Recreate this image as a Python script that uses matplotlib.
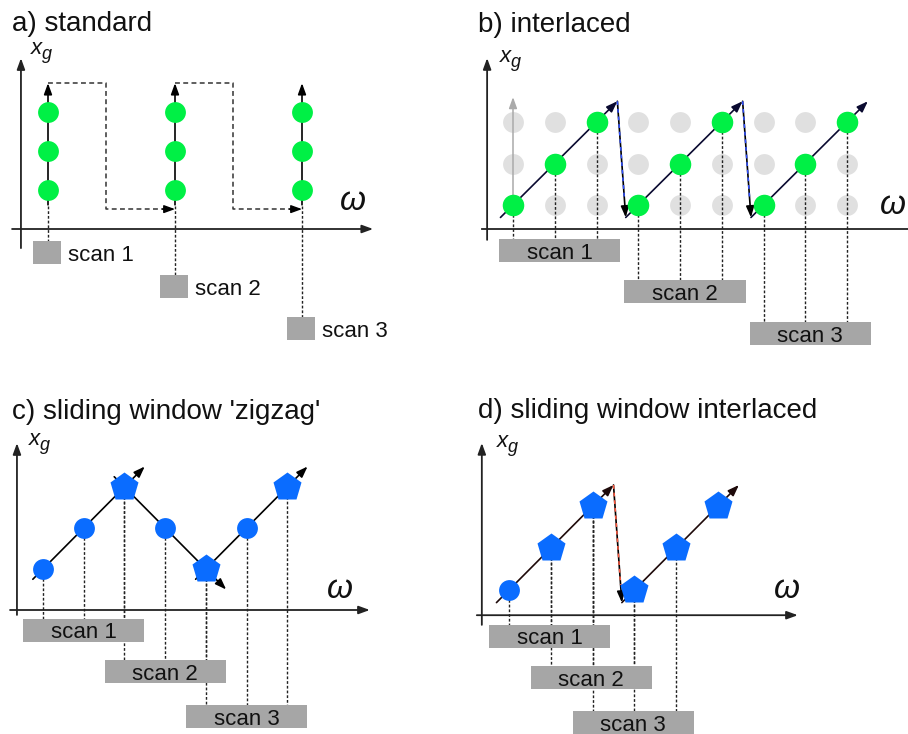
"""Acquisition schemes: standard, interlaced, sliding window zigzag / interlaced."""
import matplotlib
matplotlib.use("Agg")
import matplotlib.pyplot as plt
from matplotlib.patches import Rectangle

plt.rcParams.update({"font.family": ["Liberation Sans", "DejaVu Sans"]})

# ---- data (grid units: omega step, x_g level) ----
scan_labels = ["scan 1", "scan 2", "scan 3"]

a_cols = [0, 1, 2]
a_levels = [0, 1, 2]

b_cols = [0, 1, 2, 3, 4, 5, 6, 7, 8]
b_levels = [0, 1, 2, 0, 1, 2, 0, 1, 2]
b_grid_levels = [0, 1, 2]
b_scans = [[0, 1, 2], [3, 4, 5], [6, 7, 8]]

c_cols = [0, 1, 2, 3, 4, 5, 6]
c_levels = [0, 1, 2, 1, 0, 1, 2]
c_markers = ["o", "o", "p", "o", "p", "o", "p"]
c_scans = [[0, 1, 2], [2, 3, 4], [4, 5, 6]]

d_cols = [0, 1, 2, 3, 4, 5]
d_levels = [0, 1, 2, 0, 1, 2]
d_markers = ["o", "p", "p", "p", "p", "p"]
d_scans = [[0, 1, 2], [1, 2, 3], [2, 3, 4]]
d_sweeps = [[0, 1, 2], [3, 4, 5]]

W, H = 908, 734
GREEN, BLUE, LGREY, BOX = "#00f045", "#0a6cff", "#e0e0e0", "#a6a6a6"
DOT = dict(ls=(0, (2, 1.4)), lw=1.0, color="#222222", zorder=2)
MS = {"o": 15, "p": 21}

fig = plt.figure(figsize=(W / 100, H / 100), dpi=100)


def panel(ox, oy, ux, uy):
    ax = fig.add_axes([0, 0, 1, 1])
    ax.set_xlim(-ox / ux, (W - ox) / ux)
    ax.set_ylim((oy - H) / uy, oy / uy)
    ax.axis("off")
    ax.patch.set_alpha(0)
    return ax


def arrow(ax, p0, p1, color="k", lw=1.2, z=3):
    ax.annotate("", xy=p1, xytext=p0, zorder=z,
                arrowprops=dict(arrowstyle="-|>,head_length=0.55,head_width=0.2",
                                color=color, lw=lw, shrinkA=0, shrinkB=0,
                                mutation_scale=12))


def axes_arrows(ax, yx, y0, y1, xy, x0, x1, xhead=True):
    arrow(ax, (yx, y0), (yx, y1), color="#222222", lw=1.3)
    if xhead:
        arrow(ax, (x0, xy), (x1, xy), color="#222222", lw=1.3)
    else:
        ax.plot([x0, x1], [xy, xy], color="#222222", lw=1.3)


def ftext(x, y, s, **kw):
    fig.text(x / W, 1 - y / H, s, **kw)


def boxes(ax, centers, tops, width, height, inside=True):
    for i, (cx, top) in enumerate(zip(centers, tops)):
        ax.add_patch(Rectangle((cx - width / 2, top - height), width, height,
                               color=BOX, lw=0, zorder=5))
        if inside:
            ax.text(cx, top - height / 2, scan_labels[i], ha="center",
                    va="center_baseline", fontsize=16, color="#111111", zorder=6)


# ---------------- a) standard ----------------
ax = panel(48, 190, 127, 39)
axes_arrows(ax, -0.213, -1.49, 3.38, -1.0, -0.283, 2.56)
a_tops = [-1.31, -2.18, -3.26]
for i, c in enumerate(a_cols):
    ax.plot([c, c], [-0.42, a_tops[i]], **DOT)
    arrow(ax, (c, -0.38), (c, 2.74))
    ax.plot([c] * len(a_levels), a_levels, "o", ms=MS["o"], color=GREEN, mec="none", zorder=4)
    if i < len(a_cols) - 1:
        ax.plot([c, c + 0.46, c + 0.46, a_cols[i + 1] - 0.05], [2.74, 2.74, -0.49, -0.49],
                ls=(0, (3.2, 2.2)), color="#333333", lw=1.1, zorder=3)
        arrow(ax, (a_cols[i + 1] - 0.1, -0.49), (a_cols[i + 1], -0.49), lw=1.0)
boxes(ax, [c - 0.008 for c in a_cols], a_tops, 0.22, 0.59, inside=False)
for i, c in enumerate(a_cols):
    ax.text(c + 0.16, a_tops[i] - 0.295, scan_labels[i], ha="left",
            va="center_baseline", fontsize=16, color="#111111")

# ---------------- b) interlaced ----------------
ax = panel(513, 205, 41.75, 41.5)
axes_arrows(ax, -0.62, -0.84, 3.54, -0.58, -0.74, 9.46, xhead=False)
for lv in b_grid_levels:
    ax.plot(b_cols, [lv] * len(b_cols), "o", ms=MS["o"], color=LGREY, mec="none", zorder=1)
arrow(ax, (b_cols[0], b_levels[0]), (b_cols[0], 2.6), color="#aaaaaa", lw=1.1, z=2)
b_tops = [-0.82, -1.81, -2.82]
for i, members in enumerate(b_scans):
    for m in members:
        ax.plot([b_cols[m], b_cols[m]], [b_levels[m], b_tops[i]], **DOT)
starts = [(b_cols[s[0]] - 0.3, b_levels[s[0]] - 0.3) for s in b_scans]
ends = [(b_cols[s[-1]] + 0.5, b_levels[s[-1]] + 0.5) for s in b_scans]
for i in range(len(b_scans)):
    arrow(ax, starts[i], ends[i], color="#0a0a30")
    if i < len(b_scans) - 1:
        arrow(ax, ends[i], starts[i + 1])
        p, q = ends[i], starts[i + 1]
        ax.plot([p[0], p[0] + 0.85 * (q[0] - p[0])], [p[1], p[1] + 0.85 * (q[1] - p[1])],
                color="#3050ff", lw=1.1, ls=(0, (2.5, 2.5)), zorder=3.5)
ax.plot(b_cols, b_levels, "o", ms=MS["o"] + 0.5, color=GREEN, mec="none", zorder=4)
boxes(ax, [sum(b_cols[m] for m in s) / 3 + 0.12 for s in b_scans], b_tops, 2.9, 0.554)

# ---------------- c) sliding window zigzag ----------------
ax = panel(43, 569, 40.7, 41)
axes_arrows(ax, -0.64, -1.12, 3.07, -1.0, -0.81, 8.03)
c_tops = [-1.22, -2.22, -3.32]
for i, members in enumerate(c_scans):
    for m in members:
        ax.plot([c_cols[m], c_cols[m]], [c_levels[m], c_tops[i]], **DOT)
    f, l = members[0], members[-1]
    dx = 1 if c_cols[l] > c_cols[f] else -1
    dy = 1 if c_levels[l] > c_levels[f] else -1
    arrow(ax, (c_cols[f] - 0.25 * dx, c_levels[f] - 0.25 * dy),
          (c_cols[l] + 0.5 * dx, c_levels[l] + 0.5 * dy))
for c, lv, mk in zip(c_cols, c_levels, c_markers):
    ax.plot(c, lv, mk, ms=MS[mk], color=BLUE, mec="none", zorder=4)
boxes(ax, [sum(c_cols[m] for m in s) / 3 for s in c_scans], c_tops, 2.97, 0.56)

# ---------------- d) sliding window interlaced ----------------
ax = panel(509, 590, 41.8, 42)
axes_arrows(ax, -0.65, -0.83, 3.5, -0.6, -0.77, 6.91)
d_tops = [-0.83, -1.81, -2.88]
for i, members in enumerate(d_scans):
    for m in members:
        ax.plot([d_cols[m], d_cols[m]], [d_levels[m], d_tops[i]], **DOT)
starts = [(d_cols[s[0]] - 0.3, d_levels[s[0]] - 0.3) for s in d_sweeps]
ends = [(d_cols[s[-1]] + 0.5, d_levels[s[-1]] + 0.5) for s in d_sweeps]
for i in range(len(d_sweeps)):
    arrow(ax, starts[i], ends[i], color="#1e0a0a")
    if i < len(d_sweeps) - 1:
        arrow(ax, ends[i], starts[i + 1])
        p, q = ends[i], starts[i + 1]
        ax.plot([p[0], p[0] + 0.85 * (q[0] - p[0])], [p[1], p[1] + 0.85 * (q[1] - p[1])],
                color="#ff5a40", lw=1.1, ls=(0, (2.5, 2.5)), zorder=3.5)
for c, lv, mk in zip(d_cols, d_levels, d_markers):
    ax.plot(c, lv, mk, ms=MS[mk], color=BLUE, mec="none", zorder=4)
boxes(ax, [sum(d_cols[m] for m in s) / 3 - 0.03 for s in d_scans], d_tops, 2.9, 0.55)

# ---------------- labels ----------------
TK = dict(fontsize=20, va="baseline", ha="left", color="#111111")
ftext(12, 31, "a) standard", **TK)
ftext(478, 32, "b) interlaced", **TK)
ftext(12, 419, "c) sliding window 'zigzag'", **TK)
ftext(478, 418, "d) sliding window interlaced", **TK)
for x, y in [(31, 54), (500, 62), (29, 445), (497, 447)]:
    ftext(x, y, "x", fontsize=16, style="italic", va="baseline", ha="left", color="#111111")
    ftext(x + 11, y + 5, "g", fontsize=13, style="italic", va="baseline", ha="left",
          color="#111111")
for x, y in [(353, 202), (893, 205), (340, 590), (787, 590)]:
    ftext(x, y, "ω", fontsize=24, style="italic", ha="center", va="center", color="#111111")

fig.savefig("out.png", dpi=100)
